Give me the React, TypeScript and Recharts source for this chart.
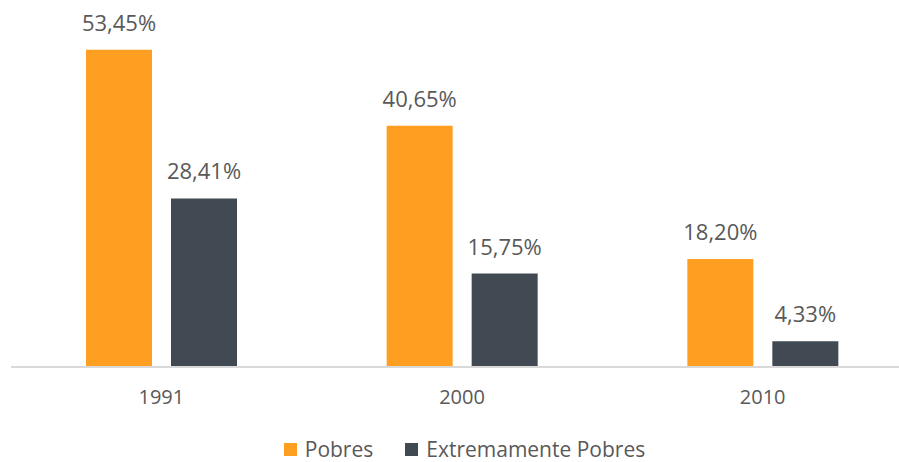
import React from "react";
import { BarChart, Bar, XAxis, YAxis, Legend, LabelList } from "recharts";

const categories = ["1991", "2000", "2010"];
const pobres = [53.45, 40.65, 18.2];
const extremamente = [28.41, 15.75, 4.33];

const data = categories.map((c, i) => ({ ano: c, pobres: pobres[i], extremos: extremamente[i] }));

const fmt = (v: number) => v.toFixed(2).replace(".", ",") + "%";
const FONT = "'Open Sans', 'Noto Sans', sans-serif";

const LegendContent = (props: any) => {
  const items = props.payload || [];
  return (
    <div style={{ display: "flex", justifyContent: "center", alignItems: "center", height: 26, fontFamily: FONT, fontSize: 21, lineHeight: "26px", color: "#595959", paddingLeft: 30 }}>
      {items.map((it: any, i: number) => (
        <div key={i} style={{ display: "flex", alignItems: "center", marginRight: i === 0 ? 32 : 0 }}>
          <span style={{ display: "inline-block", width: 13, height: 13, background: it.color, marginRight: 8 }} />
          <span>{it.value}</span>
        </div>
      ))}
    </div>
  );
};

export default function App() {
  return (
    <div style={{ position: "absolute", left: 0, top: 0, width: 899, height: 462, overflow: "hidden", background: "#fff" }}>
      <BarChart
        width={913}
        height={462}
        data={data}
        margin={{ top: 11, right: 0, left: 11, bottom: 0 }}
        barCategoryGap="24.8%"
        barGap={19}
      >
        <XAxis
          dataKey="ano"
          axisLine={{ stroke: "#d9d9d9", strokeWidth: 2 }}
          tickLine={false}
          tick={{ fill: "#595959", fontSize: 20, fontFamily: FONT }}
          tickMargin={17}
          height={69}
        />
        <YAxis hide domain={[0, 60]} />
        <Legend
          verticalAlign="bottom"
          itemSorter={null as any}
          content={LegendContent}
          wrapperStyle={{ bottom: 0, left: 0, width: 899, height: 26 }}
        />
        <Bar dataKey="pobres" name="Pobres" fill="#FF9F21" barSize={66} isAnimationActive={false}>
          <LabelList dataKey="pobres" position="top" offset={19} formatter={fmt} style={{ fill: "#595959", fontSize: 22, fontFamily: FONT }} />
        </Bar>
        <Bar dataKey="extremos" name="Extremamente Pobres" fill="#414A52" barSize={66} isAnimationActive={false}>
          <LabelList dataKey="extremos" position="top" offset={19} formatter={fmt} style={{ fill: "#595959", fontSize: 22, fontFamily: FONT }} />
        </Bar>
      </BarChart>
    </div>
  );
}
